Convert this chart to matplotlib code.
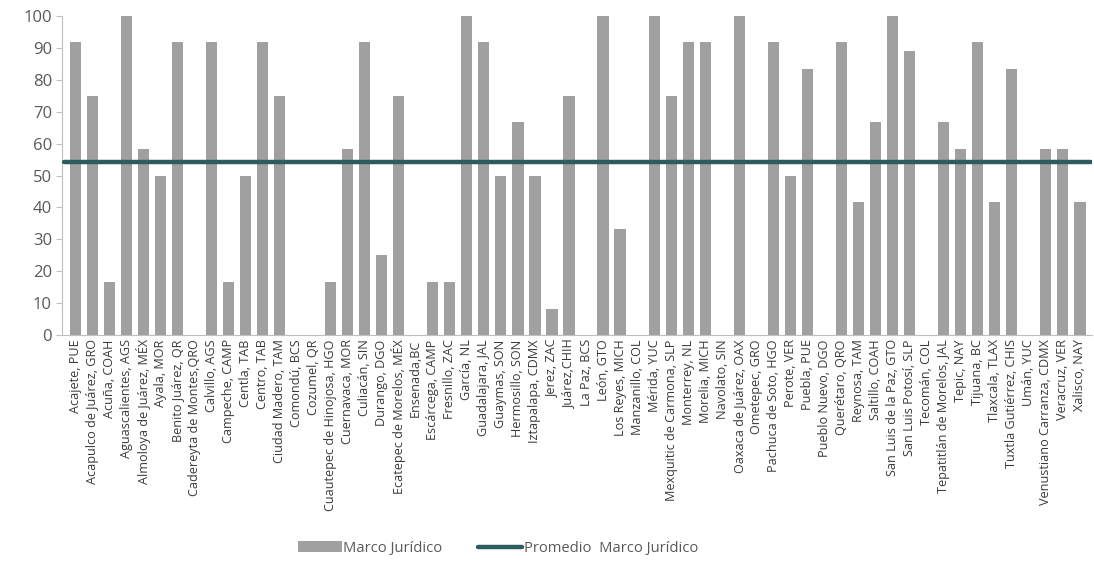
import numpy as np
import matplotlib
matplotlib.use("Agg")
import matplotlib.pyplot as plt

plt.rcParams['font.family'] = ['Open Sans', 'DejaVu Sans']

# municipios
municipios = [
    'Acajete, PUE', 'Acapulco de Juárez, GRO', 'Acuña, COAH', 'Aguascalientes, AGS',
    'Almoloya de Juárez, MÉX', 'Ayala, MOR', 'Benito Juárez, QR', 'Cadereyta de Montes,QRO',
    'Calvillo, AGS', 'Campeche, CAMP', 'Centla, TAB', 'Centro, TAB', 'Ciudad Madero, TAM',
    'Comondú, BCS', 'Cozumel, QR', 'Cuautepec de Hinojosa, HGO', 'Cuernavaca, MOR',
    'Culiacán, SIN', 'Durango, DGO', 'Ecatepec de Morelos, MÉX', 'Ensenada,BC',
    'Escárcega, CAMP', 'Fresnillo, ZAC', 'García, NL', 'Guadalajara, JAL', 'Guaymas, SON',
    'Hermosillo, SON', 'Iztapalapa, CDMX', 'Jerez, ZAC', 'Juárez,CHIH', 'La Paz, BCS',
    'León, GTO', 'Los Reyes, MICH', 'Manzanillo, COL', 'Mérida, YUC',
    'Mexquitic de Carmona, SLP', 'Monterrey, NL', 'Morelia, MICH', 'Navolato, SIN',
    'Oaxaca de Juárez, OAX', 'Ometepec, GRO', 'Pachuca de Soto, HGO', 'Perote, VER',
    'Puebla, PUE', 'Pueblo Nuevo, DGO', 'Querétaro, QRO', 'Reynosa, TAM', 'Saltillo, COAH',
    'San Luis de la Paz, GTO', 'San Luis Potosí, SLP', 'Tecomán, COL',
    'Tepatitlán de Morelos, JAL', 'Tepic, NAY', 'Tijuana, BC', 'Tlaxcala, TLAX',
    'Tuxtla Gutiérrez, CHIS', 'Umán, YUC', 'Venustiano Carranza, CDMX', 'Veracruz, VER',
    'Xalisco, NAY',
]

# valores Marco Jurídico
marco = [
    91.7, 75.0, 16.7, 100.0, 58.3, 50.0, 91.7, 0.0, 91.7, 16.7,
    50.0, 91.7, 75.0, 0.0, 0.0, 16.7, 58.3, 91.7, 25.0, 75.0,
    0.0, 16.7, 16.7, 100.0, 91.7, 50.0, 66.7, 50.0, 8.3, 75.0,
    0.0, 100.0, 33.3, 0.0, 100.0, 75.0, 91.7, 91.7, 0.0, 100.0,
    0.0, 91.7, 50.0, 83.3, 0.0, 91.7, 41.7, 66.7, 100.0, 88.9,
    0.0, 66.7, 58.3, 91.7, 41.7, 83.3, 0.0, 58.3, 58.3, 41.7,
]

promedio = 54.3

gris = '#A0A0A0'
verde = '#2E5C5E'
texto = '#595959'

fig = plt.figure(figsize=(10.94, 5.69), dpi=100)
ax = fig.add_axes([0.057, 0.411, 0.941, 0.561])

x = np.arange(len(municipios))
barras = ax.bar(x, marco, width=0.66, color=gris, zorder=2)
linea, = ax.plot([-0.65, len(municipios) - 0.35], [promedio, promedio], color=verde, lw=3.2,
                 solid_capstyle='round', zorder=3)

ax.set_xlim(-0.75, len(municipios) - 0.3)
ax.set_ylim(0, 100)
ax.set_yticks(range(0, 101, 10))
ax.set_xticks(x)
ax.set_xticklabels(municipios, rotation=90, fontsize=9.1, color='#3A3A3A')
ax.tick_params(axis='y', labelsize=12, colors=texto, length=4, width=0.8, color='#BFBFBF')
ax.tick_params(axis='x', length=0, pad=3)

for s in ['top', 'right']:
    ax.spines[s].set_visible(False)
ax.spines['left'].set_color('#BFBFBF')
ax.spines['bottom'].set_color('#BFBFBF')
ax.spines['left'].set_linewidth(0.8)
ax.spines['bottom'].set_linewidth(0.8)

leg = fig.legend([barras, linea], ['Marco Jurídico', 'Promedio  Marco Jurídico'],
                 loc='lower center', bbox_to_anchor=(0.455, 0.0), ncol=2, frameon=False,
                 fontsize=10.6, handlelength=3.0, handletextpad=0.1, columnspacing=2.4)
for t in leg.get_texts():
    t.set_color(texto)

fig.savefig('out.png', dpi=100)
